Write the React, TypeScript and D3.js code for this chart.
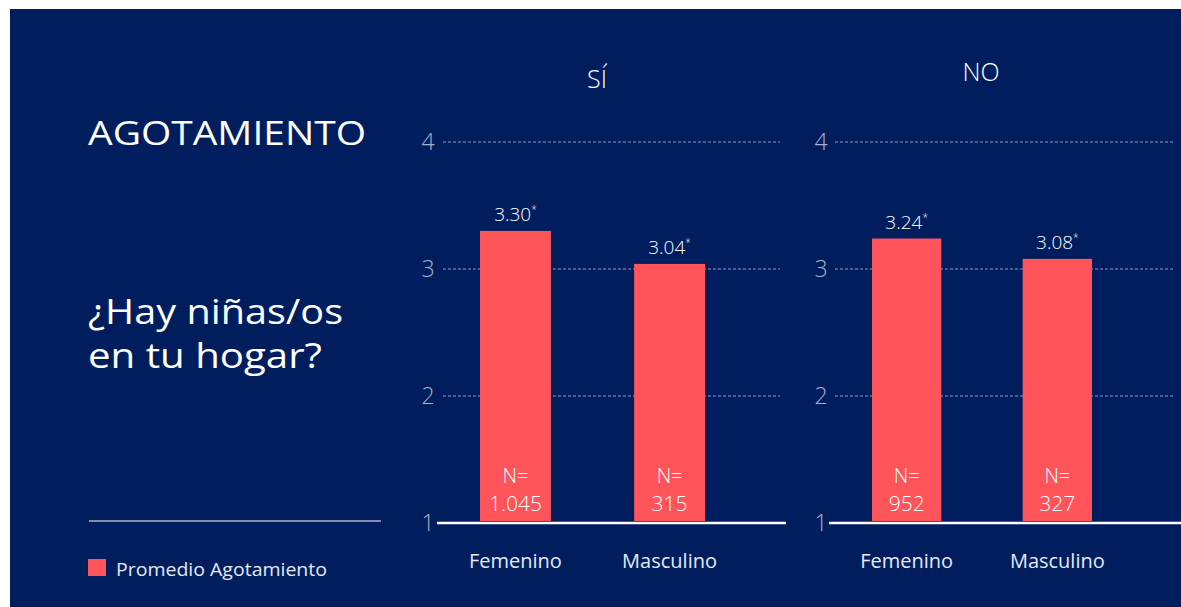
import * as React from 'react';
import * as d3 from 'd3';

const groups: string[] = ['SÍ', 'NO'];
const categories: string[] = ['Femenino', 'Masculino'];
const values: number[][] = [
	[3.3, 3.04],
	[3.24, 3.08]
];
const valueLabels: string[][] = [
	['3.30', '3.04'],
	['3.24', '3.08']
];
const nLabels: string[][] = [
	['1.045', '315'],
	['952', '327']
];
const yTicks: number[] = [1, 2, 3, 4];

const W = 1181;
const H = 607;
const NAVY = '#001e5e';
const RED = '#ff5459';
const FONT = '"Open Sans", Lato, sans-serif';

// per-panel layout
const panels = [
	{ barRange: [480, 705], gridX: [443, 780], baseX: [437, 786], tickX: 428, titleX: 597, titleY: 88 },
	{ barRange: [872, 1092], gridX: [835, 1175], baseX: [829, 1181], tickX: 821, titleX: 981, titleY: 81 }
];

export default function App() {
	const ref = React.useRef<SVGSVGElement>(null);

	React.useEffect(() => {
		const svg = d3.select(ref.current);
		svg.selectAll('*').remove();

		svg.append('rect').attr('width', W).attr('height', H).attr('fill', '#fff');
		svg.append('rect').attr('x', 10).attr('y', 9).attr('width', W - 10).attr('height', H - 9).attr('fill', NAVY);

		// left text
		svg.append('text')
			.attr('x', 88)
			.attr('y', 145)
			.attr('fill', '#fff')
			.attr('font-family', FONT)
			.attr('font-size', 33)
			.attr('font-weight', 400)
			.attr('textLength', 278)
			.attr('lengthAdjust', 'spacingAndGlyphs')
			.text('AGOTAMIENTO');

		const q = svg.append('text')
			.attr('fill', '#fff')
			.attr('font-family', FONT)
			.attr('font-size', 35)
			.attr('font-weight', 400);
		q.append('tspan').attr('x', 88).attr('y', 324).attr('textLength', 255).attr('lengthAdjust', 'spacingAndGlyphs').text('¿Hay niñas/os');
		q.append('tspan').attr('x', 88).attr('y', 368).attr('textLength', 234).attr('lengthAdjust', 'spacingAndGlyphs').text('en tu hogar?');

		svg.append('line')
			.attr('x1', 89)
			.attr('x2', 381)
			.attr('y1', 521)
			.attr('y2', 521)
			.attr('stroke', '#fff')
			.attr('stroke-width', 1);

		svg.append('rect').attr('x', 88).attr('y', 559).attr('width', 18).attr('height', 17).attr('fill', RED);
		svg.append('text')
			.attr('x', 116)
			.attr('y', 576)
			.attr('fill', '#e6e9f2')
			.attr('font-family', FONT)
			.attr('font-size', 19)
			.attr('textLength', 211)
			.attr('lengthAdjust', 'spacingAndGlyphs')
			.text('Promedio Agotamiento');

		const y = d3.scaleLinear().domain([1, 4]).range([523, 142]);

		panels.forEach((p, gi) => {
			const g = svg.append('g');
			const x = d3
				.scaleBand<string>()
				.domain(categories)
				.range(p.barRange as [number, number])
				.paddingInner(0.54)
				.paddingOuter(0);

			g.append('text')
				.attr('x', p.titleX)
				.attr('y', p.titleY)
				.attr('text-anchor', 'middle')
				.attr('fill', '#fff')
				.attr('font-family', FONT)
				.attr('font-size', 25)
				.attr('font-weight', 300)
				.text(groups[gi]);

			// grid
			g.selectAll('.grid')
				.data(yTicks.filter((t) => t > 1))
				.enter()
				.append('line')
				.attr('x1', p.gridX[0])
				.attr('x2', p.gridX[1])
				.attr('y1', (d) => y(d))
				.attr('y2', (d) => y(d))
				.attr('stroke', '#8e9cc0')
				.attr('stroke-width', 1)
				.attr('stroke-dasharray', '3,2');

			g.selectAll('.tick')
				.data(yTicks)
				.enter()
				.append('text')
				.attr('x', p.tickX)
				.attr('y', (d) => y(d) + 8)
				.attr('text-anchor', 'middle')
				.attr('fill', '#a7b1cc')
				.attr('font-family', FONT)
				.attr('font-size', 23)
				.attr('font-weight', 300)
				.text((d) => d);

			// bars
			const bars = g.selectAll('.bar').data(categories).enter().append('g');
			bars.append('rect')
				.attr('x', (d) => x(d)!)
				.attr('width', x.bandwidth())
				.attr('y', (d, i) => y(values[gi][i]))
				.attr('height', (d, i) => y(1) - 2 - y(values[gi][i]))
				.attr('fill', RED);

			const vl = bars.append('text')
				.attr('x', (d) => x(d)! + x.bandwidth() / 2)
				.attr('y', (d, i) => y(values[gi][i]) - 10)
				.attr('text-anchor', 'middle')
				.attr('fill', '#fff')
				.attr('font-family', FONT)
				.attr('font-size', 19)
				.attr('font-weight', 300);
			vl.append('tspan').text((d, i) => valueLabels[gi][i]);
			vl.append('tspan').attr('font-size', 10).attr('dy', -8).text('*');

			bars.append('text')
				.attr('x', (d) => x(d)! + x.bandwidth() / 2)
				.attr('y', 483)
				.attr('text-anchor', 'middle')
				.attr('fill', '#fff')
				.attr('font-family', FONT)
				.attr('font-size', 20)
				.attr('font-weight', 300)
				.text('N=');
			bars.append('text')
				.attr('x', (d) => x(d)! + x.bandwidth() / 2)
				.attr('y', 511)
				.attr('text-anchor', 'middle')
				.attr('fill', '#fff')
				.attr('font-family', FONT)
				.attr('font-size', 21)
				.attr('font-weight', 300)
				.text((d, i) => nLabels[gi][i]);

			bars.append('text')
				.attr('x', (d) => x(d)! + x.bandwidth() / 2)
				.attr('y', 568)
				.attr('text-anchor', 'middle')
				.attr('fill', '#e6e9f2')
				.attr('font-family', FONT)
				.attr('font-size', 20)
				.text((d) => d);

			// baseline
			g.append('line')
				.attr('x1', p.baseX[0])
				.attr('x2', p.baseX[1])
				.attr('y1', y(1))
				.attr('y2', y(1))
				.attr('stroke', '#fff')
				.attr('stroke-width', 2.5);
		});
	}, []);

	return (
		<svg ref={ref} width={W} height={H} style={{ display: 'block', position: 'absolute', left: 0, top: 0 }} />
	);
}
